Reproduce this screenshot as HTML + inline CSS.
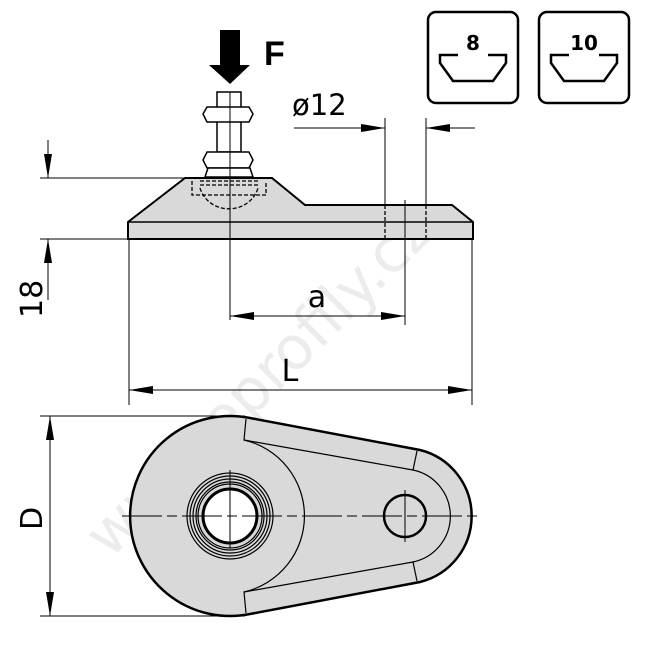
<!DOCTYPE html>
<html><head><style>body{margin:0;background:#fff}svg{display:block}</style></head><body>
<svg width="645" height="645" viewBox="0 0 645 645" xmlns="http://www.w3.org/2000/svg" font-family="'DejaVu Sans','Liberation Sans',sans-serif">
<defs>
<marker id="ar" viewBox="0 0 24 8" refX="24" refY="4" markerWidth="24" markerHeight="8" markerUnits="userSpaceOnUse" orient="auto-start-reverse"><path d="M0,0L24,4L0,8z" fill="#000"/></marker>
</defs>
<text x="0" y="0" transform="translate(110,560) rotate(-45)" font-size="60" fill="#ececec" font-family="'DejaVu Sans',sans-serif">www.eprofily.cz</text>
<!-- icons -->
<g fill="none" stroke="#000" stroke-width="2.5">
<rect x="428" y="12" width="90" height="91" rx="8"/>
<rect x="539" y="12" width="90" height="91" rx="8"/>
<path d="M458,55H440V63L453,81H493L506,63V55H488"/>
<path d="M569,55H551V63L564,81H604L617,63V55H599"/>
</g>
<text x="473" y="50" font-size="20" font-weight="bold" text-anchor="middle">8</text>
<text x="584" y="50" font-size="20" font-weight="bold" text-anchor="middle">10</text>
<!-- Force arrow -->
<path d="M220,30H240V65H250L230,84L209,65H220Z" fill="#000"/>
<text x="264" y="65" font-size="34" font-weight="bold" font-family="'Liberation Sans',sans-serif">F</text>
<!-- side view -->
<g stroke="#000" fill="#d9d9d9" stroke-width="1.5">
<path d="M128,222L185,178H272L305,205H452L473,222V239H128Z" stroke-width="2"/>
<line x1="128" y1="222" x2="473" y2="222" stroke-width="1.5"/>
<path d="M217,92L217,152H241L241,92Z" fill="#fff"/>
<path d="M207,107H249L253,114L249,122H207L203,114Z" fill="#fff"/>
<path d="M207,152H249L253,160L249,168H207L203,160Z" fill="#fff"/>
<path d="M208,168L205,177H253L250,168Z" fill="#fff"/>
</g>
<g fill="none" stroke="#000" stroke-width="1.3" stroke-dasharray="4,2">
<path d="M192,181V195H266V181"/>
<path d="M200,188A30,28 0 0 0 258,188"/>
<line x1="200" y1="181" x2="258" y2="181"/>
<line x1="200" y1="185" x2="258" y2="185"/>
<line x1="385" y1="205" x2="385" y2="239"/>
<line x1="426" y1="205" x2="426" y2="239"/>
</g>
<g stroke="#000" stroke-width="1" fill="none">
<line x1="230" y1="92" x2="230" y2="320"/>
<line x1="405" y1="200" x2="405" y2="325"/>
<line x1="385" y1="118" x2="385" y2="205"/>
<line x1="426" y1="118" x2="426" y2="205"/>
<line x1="294" y1="128" x2="385" y2="128" marker-end="url(#ar)"/>
<line x1="475" y1="128" x2="426" y2="128" marker-end="url(#ar)"/>
<line x1="40" y1="178" x2="188" y2="178"/>
<line x1="40" y1="239" x2="128" y2="239"/>
<line x1="48" y1="140" x2="48" y2="178" marker-end="url(#ar)"/>
<line x1="48" y1="300" x2="48" y2="239" marker-end="url(#ar)"/>
<line x1="230" y1="316" x2="405" y2="316" marker-start="url(#ar)" marker-end="url(#ar)"/>
<line x1="129" y1="239" x2="129" y2="405"/>
<line x1="472" y1="239" x2="472" y2="405"/>
<line x1="129" y1="390" x2="472" y2="390" marker-start="url(#ar)" marker-end="url(#ar)"/>
<line x1="40" y1="416" x2="245" y2="416"/>
<line x1="40" y1="616" x2="245" y2="616"/>
<line x1="50" y1="416" x2="50" y2="616" marker-start="url(#ar)" marker-end="url(#ar)"/>
</g>
<text x="292" y="115" font-size="29">ø12</text>
<text x="317" y="307" font-size="30" text-anchor="middle">a</text>
<text x="290" y="381" font-size="30" text-anchor="middle">L</text>
<text transform="translate(42,318) rotate(-90)" font-size="30">18</text>
<text transform="translate(42,530) rotate(-90)" font-size="30">D</text>
<!-- top view -->
<g stroke="#000" fill="#d9d9d9">
<path d="M250,418L420,450A68,68 0 0 1 420,582L250,614A100,100 0 1 1 250,418Z" stroke-width="2.5"/>
<g fill="none" stroke-width="1.2">
<path d="M246,419L244,440A78,78 0 0 1 244,592L246,613"/>
<path d="M244,440L413,470L417,451"/>
<path d="M244,592L413,562L417,581"/>
<path d="M413,470A47,47 0 0 1 413,562"/>
<circle cx="230" cy="516" r="43"/>
<circle cx="230" cy="516" r="40"/>
<circle cx="230" cy="516" r="37"/>
<circle cx="230" cy="516" r="34"/>
<circle cx="230" cy="516" r="32"/>
</g>
<circle cx="230" cy="516" r="27" fill="#fff" stroke-width="3"/>
<circle cx="405" cy="516" r="21" fill="none" stroke-width="2.5"/>
<g stroke-width="1" fill="none">
<line x1="122" y1="516" x2="478" y2="516" stroke-dasharray="40,5,10,5"/>
<line x1="230" y1="470" x2="230" y2="548"/>
<line x1="405" y1="490" x2="405" y2="542"/>
</g>
</g>
</svg>
</body></html>
